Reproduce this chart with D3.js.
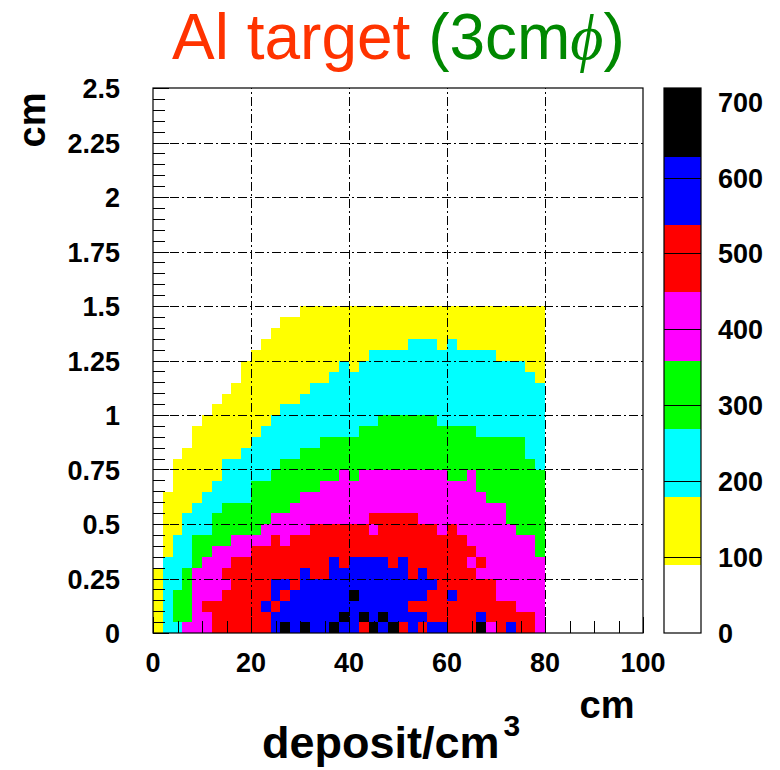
<!DOCTYPE html>
<html>
<head>
<meta charset="utf-8">
<script src="https://cdn.jsdelivr.net/npm/d3@7/dist/d3.min.js"></script>
<style>
body { margin: 0; background: #fff; }
text { font-family: "Liberation Sans", Arial, Helvetica, sans-serif; }
</style>
</head>
<body>
<svg width="780" height="770"></svg>
<script>
// bins: 2 cm in x (0..80), 0.05 cm in y (0..1.5)
var xBinWidth = 2;
var yBinWidth = 0.05;

// colour band of every cell
// one string per y bin, bottom row first, one digit per x bin (0 = white ... 7 = black)
var rows = [
  "1224445555" + "5567676676" + "6576756566" + "5557456554",
  "1233445555" + "5566666667" + "6767666655" + "5556555554",
  "1233455555" + "5656666666" + "6666665555" + "5555555444",
  "1233444555" + "5565666666" + "7666666655" + "6555544444",
  "1223444455" + "5566566666" + "6666666665" + "5555544444",
  "1223444555" + "5555565566" + "6666665655" + "5554444444",
  "0222344455" + "5555555565" + "6666565555" + "5545444444",
  "0122334444" + "5555555555" + "5555555555" + "5554444443",
  "0122333344" + "4454555555" + "5555555555" + "5544444443",
  "0112223333" + "3444445555" + "5545555554" + "5444444333",
  "0112223333" + "3344444444" + "4455555444" + "4444443333",
  "0111222333" + "3333444444" + "4444444444" + "4444443333",
  "0111122222" + "3333344444" + "4444444444" + "4444333333",
  "0011112222" + "3333333444" + "4444444444" + "4443333333",
  "0011111222" + "2233333334" + "3444444444" + "3343333333",
  "0011111222" + "2223333333" + "3333333333" + "3333333332",
  "0001111112" + "2222233333" + "3333333333" + "3333333322",
  "0000111111" + "2222222333" + "3333333333" + "3333333322",
  "0000111111" + "1222222222" + "2333333333" + "3332222222",
  "0000011111" + "1122222222" + "2223333332" + "2222222222",
  "0000001111" + "1112222222" + "2222222222" + "2222222222",
  "0000000111" + "1111122222" + "2222222222" + "2222222222",
  "0000000011" + "1111112222" + "2222222222" + "2222222222",
  "0000000001" + "1111111122" + "2222222222" + "2222222221",
  "0000000001" + "1111111112" + "1222222222" + "2222222211",
  "0000000000" + "1111111111" + "1122222222" + "2222211111",
  "0000000000" + "0111111111" + "1111112221" + "2111111111",
  "0000000000" + "0011111111" + "1111111111" + "1111111111",
  "0000000000" + "0001111111" + "1111111111" + "1111111111",
  "0000000000" + "0000011111" + "1111111111" + "1111111111"
];

// contour levels of the palette (deposit/cm3)
var contours = [0, 90, 180, 269, 359, 449, 538, 628, 718];
var palette = ["#ffffff", "#ffff00", "#00ffff", "#00ff00", "#ff00ff", "#ff0000", "#0000ff", "#000000"];

var xTicks = [0, 20, 40, 60, 80, 100];
var yTicks = [0, 0.25, 0.5, 0.75, 1, 1.25, 1.5, 1.75, 2, 2.25, 2.5];
var zTicks = [0, 100, 200, 300, 400, 500, 600, 700];

var svg = d3.select("svg");

var x = d3.scaleLinear().domain([0, 100]).range([153, 643]);
var y = d3.scaleLinear().domain([0, 2.5]).range([633, 88]);
var z = d3.scaleLinear().domain([0, 718]).range([633, 88]);

var color = d3.scaleThreshold()
    .domain(contours.slice(1, -1))
    .range(palette);

var cells = [];
rows.forEach(function(s, j) {
  s.split("").forEach(function(c, i) {
    var k = +c;
    cells.push({
      x: i * xBinWidth,
      y: j * yBinWidth,
      value: (contours[k] + contours[k + 1]) / 2
    });
  });
});

svg.append("g")
    .attr("class", "cells")
    .attr("shape-rendering", "crispEdges")
  .selectAll("rect")
  .data(cells)
  .enter().append("rect")
    .attr("x", function(d) { return x(d.x); })
    .attr("y", function(d) { return y(d.y + yBinWidth); })
    .attr("width", function(d) { return x(d.x + xBinWidth) - x(d.x) + 0.3; })
    .attr("height", function(d) { return y(d.y) - y(d.y + yBinWidth) + 0.3; })
    .attr("fill", function(d) { return color(d.value); });

// dash-dot grid on top of the cells
var grid = svg.append("g")
    .attr("stroke", "#000")
    .attr("stroke-width", 1)
    .attr("shape-rendering", "crispEdges")
    .attr("stroke-dasharray", "9,3,2,3");

grid.selectAll(".gx")
  .data(xTicks.slice(1, -1))
  .enter().append("line")
    .attr("x1", function(d) { return x(d) + 0.5; })
    .attr("x2", function(d) { return x(d) + 0.5; })
    .attr("y1", y(0))
    .attr("y2", y(2.5));

grid.selectAll(".gy")
  .data(yTicks.slice(1, -1))
  .enter().append("line")
    .attr("x1", x(0))
    .attr("x2", x(100))
    .attr("y1", function(d) { return Math.round(y(d)) + 0.5; })
    .attr("y2", function(d) { return Math.round(y(d)) + 0.5; });

// tick marks pointing into the frame
var ticks = svg.append("g")
    .attr("stroke", "#000")
    .attr("stroke-width", 1)
    .attr("shape-rendering", "crispEdges");

ticks.selectAll(".tx")
  .data(x.ticks(20))
  .enter().append("line")
    .attr("x1", function(d) { return x(d) + 0.5; })
    .attr("x2", function(d) { return x(d) + 0.5; })
    .attr("y1", y(0))
    .attr("y2", function(d) { return d % 20 === 0 ? y(0) - 16 : y(0) - 12; });

ticks.selectAll(".ty")
  .data(y.ticks(50))
  .enter().append("line")
    .attr("x1", x(0))
    .attr("x2", function(d) { return Math.abs(d / 0.25 - Math.round(d / 0.25)) < 1e-6 ? x(0) + 16 : x(0) + 12; })
    .attr("y1", function(d) { return Math.round(y(d)) + 0.5; })
    .attr("y2", function(d) { return Math.round(y(d)) + 0.5; });

svg.append("rect")
    .attr("x", x(0))
    .attr("y", y(2.5))
    .attr("width", x(100) - x(0))
    .attr("height", y(0) - y(2.5))
    .attr("fill", "none")
    .attr("stroke", "#000")
    .attr("stroke-width", 1.2);

// axis labels
svg.append("g").selectAll("text")
  .data(xTicks)
  .enter().append("text")
    .attr("x", function(d) { return x(d); })
    .attr("y", 672)
    .attr("text-anchor", "middle")
    .attr("font-size", 27)
    .attr("font-weight", "bold")
    .text(function(d) { return d; });

svg.append("g").selectAll("text")
  .data(yTicks)
  .enter().append("text")
    .attr("x", 120)
    .attr("y", function(d) { return y(d) + 10; })
    .attr("text-anchor", "end")
    .attr("font-size", 27)
    .attr("font-weight", "bold")
    .text(function(d) { return d; });

// palette
var bands = d3.range(palette.length).map(function(k) {
  return {lo: contours[k], hi: contours[k + 1]};
});

var pal = svg.append("g");

pal.selectAll("rect")
  .data(bands)
  .enter().append("rect")
    .attr("shape-rendering", "crispEdges")
    .attr("x", 664)
    .attr("width", 37)
    .attr("y", function(d) { return z(d.hi); })
    .attr("height", function(d) { return z(d.lo) - z(d.hi) + 0.3; })
    .attr("fill", function(d) { return color((d.lo + d.hi) / 2); });

pal.selectAll("line")
  .data(zTicks.slice(1))
  .enter().append("line")
    .attr("shape-rendering", "crispEdges")
    .attr("x1", 664)
    .attr("x2", 701)
    .attr("y1", function(d) { return Math.round(z(d)) + 0.5; })
    .attr("y2", function(d) { return Math.round(z(d)) + 0.5; })
    .attr("stroke", "#000");

pal.append("rect")
    .attr("x", 664)
    .attr("y", z(718))
    .attr("width", 37)
    .attr("height", z(0) - z(718))
    .attr("fill", "none")
    .attr("stroke", "#000")
    .attr("stroke-width", 1.2);

pal.selectAll("text")
  .data(zTicks)
  .enter().append("text")
    .attr("x", 718)
    .attr("y", function(d) { return z(d) + 10; })
    .attr("font-size", 27)
    .attr("font-weight", "bold")
    .text(function(d) { return d; });

// titles
var title = svg.append("text")
    .attr("x", 172)
    .attr("y", 59)
    .attr("font-size", 64);
title.append("tspan").attr("fill", "#ff3300").text("Al target ");
title.append("tspan").attr("fill", "#008800").text("(3cm");
title.append("tspan").attr("fill", "#008800")
    .attr("font-style", "italic")
    .style("font-family", "'Liberation Serif', 'DejaVu Serif', serif")
    .text("\u03d5");
title.append("tspan").attr("fill", "#008800").text(")");

svg.append("text")
    .attr("transform", "translate(45,120) rotate(-90)")
    .attr("text-anchor", "middle")
    .attr("font-size", 38)
    .attr("font-weight", "bold")
    .text("cm");

svg.append("text")
    .attr("x", 607)
    .attr("y", 718)
    .attr("text-anchor", "middle")
    .attr("font-size", 38)
    .attr("font-weight", "bold")
    .text("cm");

var xt = svg.append("text")
    .attr("x", 262)
    .attr("y", 758)
    .attr("font-size", 45)
    .attr("font-weight", "bold");
xt.append("tspan").text("deposit/cm");
xt.append("tspan")
    .attr("dx", 4)
    .attr("dy", -22)
    .attr("font-size", 30)
    .text("3");
</script>
</body>
</html>
